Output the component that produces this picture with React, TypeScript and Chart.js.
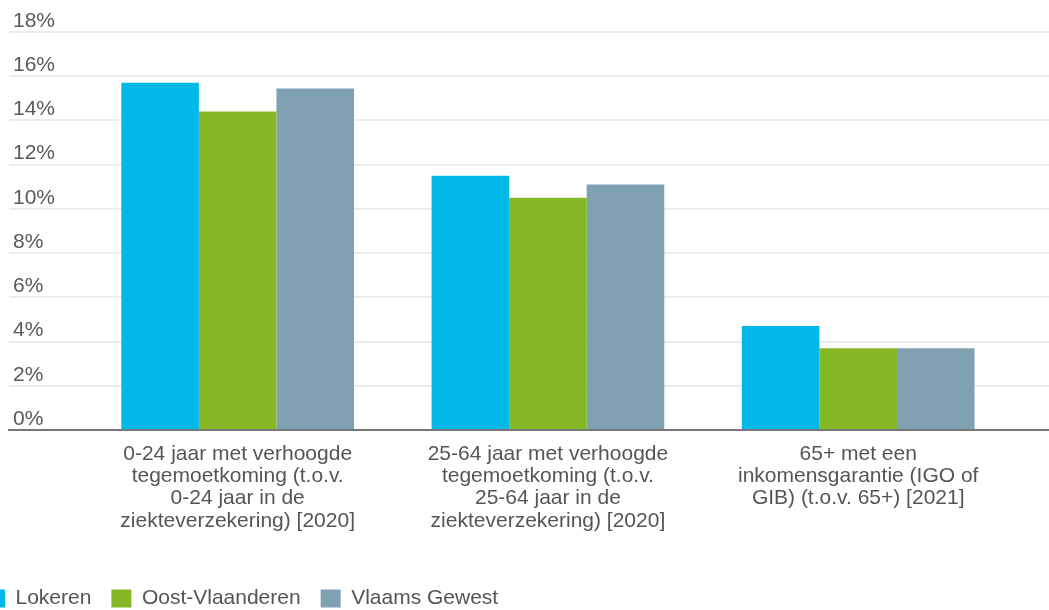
import React, { useEffect, useRef } from "react";
import { Chart, registerables } from "chart.js";

Chart.register(...registerables);

const CATEGORIES: string[][] = [
  ["0-24 jaar met verhoogde", "tegemoetkoming (t.o.v.", "0-24 jaar in de", "ziekteverzekering) [2020]"],
  ["25-64 jaar met verhoogde", "tegemoetkoming (t.o.v.", "25-64 jaar in de", "ziekteverzekering) [2020]"],
  ["65+ met een", "inkomensgarantie (IGO of", "GIB) (t.o.v. 65+) [2021]"],
];
const SERIES_NAMES = ["Lokeren", "Oost-Vlaanderen", "Vlaams Gewest"];
const LOKEREN = [15.7, 11.5, 4.7];
const OOST_VLAANDEREN = [14.4, 10.5, 3.7];
const VLAAMS_GEWEST = [15.45, 11.1, 3.7];
const COLORS = ["#00B9E8", "#86B825", "#80A1B1"];
const Y_MAX = 18;
const Y_STEP = 2;

const FONT = '"Liberation Sans", Arial, sans-serif';

export default function App() {
  const ref = useRef<HTMLCanvasElement | null>(null);

  useEffect(() => {
    if (!ref.current) return;
    const series = [LOKEREN, OOST_VLAANDEREN, VLAAMS_GEWEST];
    const chart = new Chart(ref.current, {
      type: "bar",
      data: {
        datasets: series.map((vals, i) => ({
          label: SERIES_NAMES[i],
          data: vals.map((v, j) => ({ x: j, y: v })),
          backgroundColor: COLORS[i],
          borderWidth: 0,
          barPercentage: 1,
          categoryPercentage: 0.75,
        })),
      },
      options: {
        animation: false,
        responsive: true,
        maintainAspectRatio: false,
        layout: { padding: { top: 32, left: 0, right: 0, bottom: 0 } },
        plugins: {
          tooltip: { enabled: false },
          legend: {
            position: "bottom",
            align: "start",
            labels: {
              boxWidth: 20,
              boxHeight: 18,
              padding: 20,
              color: "#555555",
              font: { family: FONT, size: 21 },
            },
          },
        },
        scales: {
          x: {
            type: "linear",
            min: -0.737,
            max: 2.615,
            offset: false,
            grid: { display: false, drawTicks: false },
            border: { display: true, color: "#777777", width: 2 },
            afterFit: (axis: any) => {
              axis.height = 138;
            },
            ticks: {
              stepSize: 1,
              includeBounds: false,
              autoSkip: false,
              maxRotation: 0,
              minRotation: 0,
              padding: 13,
              color: "#555555",
              font: { family: FONT, size: 21, lineHeight: 1.06 },
              callback: (v: any) => {
                const idx = Math.round(Number(v));
                return Math.abs(Number(v) - idx) < 1e-6 && CATEGORIES[idx] ? CATEGORIES[idx] : "";
              },
            },
          },
          y: {
            min: 0,
            max: Y_MAX,
            grid: { color: "#ececec", lineWidth: 2, drawTicks: false },
            border: { display: false },
            afterFit: (axis: any) => {
              axis.width = 44;
            },
            ticks: {
              stepSize: Y_STEP,
              mirror: true,
              padding: 4,
              labelOffset: -11,
              color: "#595959",
              font: { family: FONT, size: 21 },
              callback: (v: any) => `${v}%`,
            },
          },
        },
      },
    });
    return () => chart.destroy();
  }, []);

  return (
    <div style={{ position: "fixed", left: -35, top: 0, width: 1084, height: 619, background: "#fff" }}>
      <canvas ref={ref} />
    </div>
  );
}
